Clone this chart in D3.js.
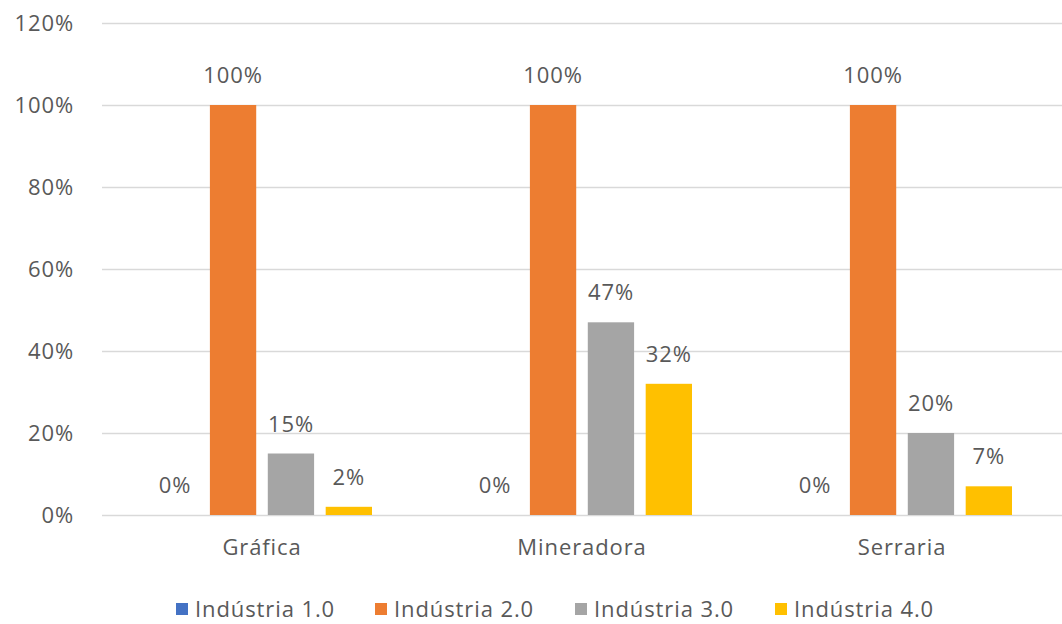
<!DOCTYPE html>
<html>
<head>
<meta charset="utf-8">
<script src="https://cdn.jsdelivr.net/npm/d3@7"></script>
<style>
  html, body { margin: 0; padding: 0; background: #fff; }
  svg { display: block; font-family: "Open Sans", "Noto Sans", sans-serif; }
</style>
</head>
<body>
<svg id="chart" width="1062" height="624"></svg>
<script>
const categories = ["Gráfica", "Mineradora", "Serraria"];
const seriesNames = ["Indústria 1.0", "Indústria 2.0", "Indústria 3.0", "Indústria 4.0"];
const serie1 = [0, 0, 0];
const serie2 = [1.00, 1.00, 1.00];
const serie3 = [0.15, 0.47, 0.20];
const serie4 = [0.02, 0.32, 0.07];
const yTicks = [0, 0.2, 0.4, 0.6, 0.8, 1.0, 1.2];
const colors = ["#4472C4", "#ED7D31", "#A5A5A5", "#FFC000"];

const seriesValues = [serie1, serie2, serie3, serie4];
const data = categories.map((c, i) => ({
  category: c,
  values: seriesNames.map((s, j) => ({ series: s, value: seriesValues[j][i], color: colors[j] }))
}));

const svg = d3.select("#chart");
const mLeft = 102, mRight = 1062, mTop = 23, mBottom = 515;
const textColor = "#595959";
const fs = "22px", ls = "0.9px";

const y = d3.scaleLinear().domain([0, 1.2]).range([mBottom, mTop]);
const x0 = d3.scaleBand().domain(categories).range([mLeft, mRight]).paddingInner(0.3125).paddingOuter(0.15625);
const x1 = d3.scaleBand().domain(seriesNames).range([0, x0.bandwidth()]).paddingInner(0.2).paddingOuter(0);

// gridlines
svg.append("g").selectAll("line").data(yTicks).join("line")
  .attr("x1", mLeft).attr("x2", mRight)
  .attr("y1", d => Math.round(y(d)) + 0.5).attr("y2", d => Math.round(y(d)) + 0.5)
  .attr("stroke", "#d9d9d9").attr("stroke-width", 1.6);

// y axis labels
const yAxis = d3.axisLeft(y).tickValues(yTicks).tickFormat(d3.format(".0%")).tickSize(0).tickPadding(0);
const yg = svg.append("g").attr("transform", `translate(74,0)`).call(yAxis);
yg.select(".domain").remove();
yg.selectAll("text").attr("fill", textColor).style("font-size", fs).style("letter-spacing", ls)
  .attr("font-family", null).attr("dy", "0.35em");

// bars
const groups = svg.append("g").selectAll("g").data(data).join("g")
  .attr("transform", d => `translate(${x0(d.category)},0)`);
groups.selectAll("rect").data(d => d.values).join("rect")
  .attr("x", d => x1(d.series))
  .attr("width", x1.bandwidth())
  .attr("y", d => y(d.value))
  .attr("height", d => mBottom - y(d.value))
  .attr("fill", d => d.color);

// data labels
groups.selectAll("text").data(d => d.values).join("text")
  .attr("x", d => x1(d.series) + x1.bandwidth() / 2)
  .attr("y", d => y(d.value) - 22)
  .attr("text-anchor", "middle")
  .attr("fill", textColor)
  .style("font-size", fs).style("letter-spacing", ls)
  .text(d => d3.format(".0%")(d.value));

// x axis labels
const xAxis = d3.axisBottom(x0).tickSize(0).tickPadding(0);
const xg = svg.append("g").attr("transform", `translate(0,${mBottom + 25})`).call(xAxis);
xg.select(".domain").remove();
xg.selectAll("text").attr("fill", textColor).style("font-size", fs).style("letter-spacing", ls)
  .attr("font-family", null).attr("dy", "0.7em");
yg.attr("font-family", null);
xg.attr("font-family", null);

// legend
const legendX = [176, 375, 575, 775];
const lg = svg.append("g").selectAll("g").data(seriesNames).join("g")
  .attr("transform", (d, i) => `translate(${legendX[i]},609)`);
lg.append("rect").attr("x", 0).attr("y", -6).attr("width", 12).attr("height", 12)
  .attr("fill", (d, i) => colors[i]);
lg.append("text").attr("x", 19).attr("y", 0).attr("dy", "0.35em")
  .attr("fill", textColor).style("font-size", fs).style("letter-spacing", ls).text(d => d);
</script>
</body>
</html>
